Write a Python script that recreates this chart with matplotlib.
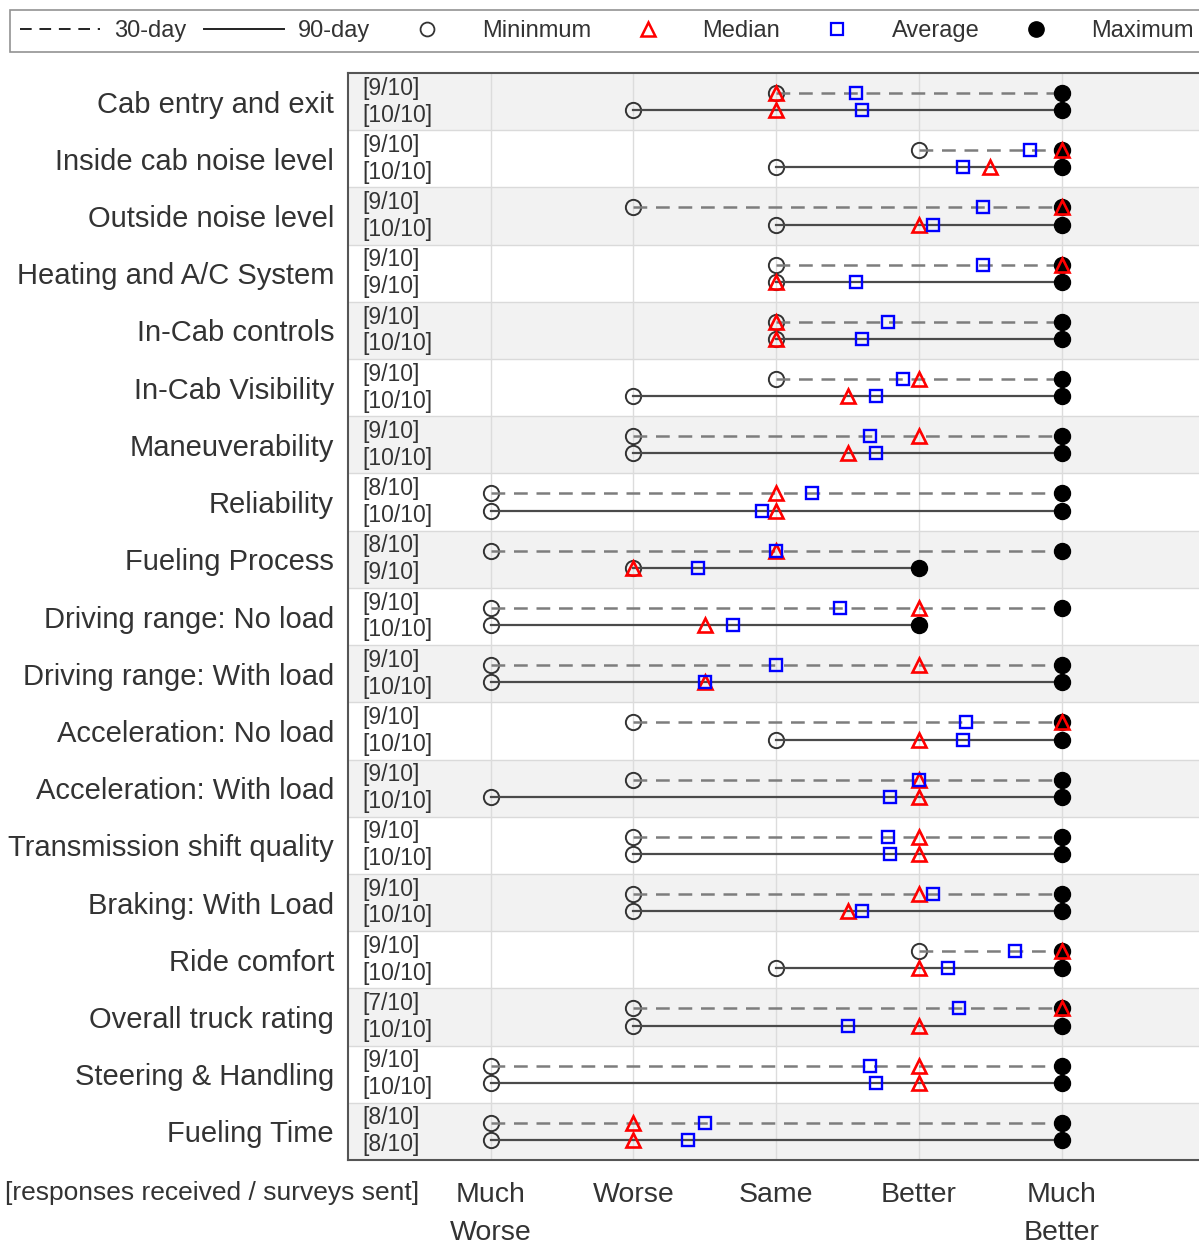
import numpy as np
import matplotlib
matplotlib.use("Agg")
import matplotlib.pyplot as plt
from matplotlib.lines import Line2D

plt.rcParams["font.family"] = ["Liberation Sans", "DejaVu Sans"]

# ===================== DATA =====================
categories = [
    "Cab entry and exit", "Inside cab noise level", "Outside noise level",
    "Heating and A/C System", "In-Cab controls", "In-Cab Visibility",
    "Maneuverability", "Reliability", "Fueling Process",
    "Driving range: No load", "Driving range: With load",
    "Acceleration: No load", "Acceleration: With load",
    "Transmission shift quality", "Braking: With Load", "Ride comfort",
    "Overall truck rating", "Steering & Handling", "Fueling Time",
]

# 30-day survey (scale 1 = Much Worse ... 5 = Much Better)
min_30 = [3, 4, 2, 3, 3, 3, 2, 1, 1, 1, 1, 2, 2, 2, 2, 4, 2, 1, 1]
med_30 = [3, 5, 5, 5, 3, 4, 4, 3, 3, 4, 4, 5, 4, 4, 4, 5, 5, 4, 2]
avg_30 = [3.56, 4.78, 4.45, 4.45, 3.78, 3.89, 3.66, 3.25, 3.0, 3.45,
          3.0, 4.33, 4.0, 3.78, 4.1, 4.67, 4.28, 3.66, 2.5]
max_30 = [5, 5, 5, 5, 5, 5, 5, 5, 5, 5, 5, 5, 5, 5, 5, 5, 5, 5, 5]
resp_30 = ["[9/10]", "[9/10]", "[9/10]", "[9/10]", "[9/10]", "[9/10]",
           "[9/10]", "[8/10]", "[8/10]", "[9/10]", "[9/10]", "[9/10]",
           "[9/10]", "[9/10]", "[9/10]", "[9/10]", "[7/10]", "[9/10]",
           "[8/10]"]

# 90-day survey
min_90 = [2, 3, 3, 3, 3, 2, 2, 1, 2, 1, 1, 3, 1, 2, 2, 3, 2, 1, 1]
med_90 = [3, 4.5, 4, 3, 3, 3.5, 3.5, 3, 2, 2.5, 2.5, 4, 4, 4, 3.5, 4, 4, 4, 2]
avg_90 = [3.6, 4.31, 4.1, 3.56, 3.6, 3.7, 3.7, 2.9, 2.45, 2.7,
          2.5, 4.31, 3.8, 3.8, 3.6, 4.2, 3.5, 3.7, 2.38]
max_90 = [5, 5, 5, 5, 5, 5, 5, 5, 4, 4, 5, 5, 5, 5, 5, 5, 5, 5, 5]
resp_90 = ["[10/10]", "[10/10]", "[10/10]", "[9/10]", "[10/10]", "[10/10]",
           "[10/10]", "[10/10]", "[9/10]", "[10/10]", "[10/10]", "[10/10]",
           "[10/10]", "[10/10]", "[10/10]", "[10/10]", "[10/10]", "[10/10]",
           "[8/10]"]

scale_vals = [1, 2, 3, 4, 5]
scale_labels = ["Much\nWorse", "Worse", "Same", "Better", "Much\nBetter"]

# ===================== STYLE =====================
DASH_COLOR = "#7d7d7d"
SOLID_COLOR = "#4a4a4a"
SHADE = "#f2f2f2"
TXT = "#333333"
OFF30, OFF90 = -0.15, 0.15

fig = plt.figure(figsize=(11.99, 12.45), dpi=100)
ax = fig.add_axes([348 / 1199, 1 - 1160 / 1245, 856.5 / 1199, (1160 - 73) / 1245])

n = len(categories)
ax.set_xlim(0, 6)
ax.set_ylim(n - 0.5, -0.5)

# row shading and separators
for i in range(n):
    if i % 2 == 0:
        ax.axhspan(i - 0.5, i + 0.5, color=SHADE, zorder=0, lw=0)
    if i > 0:
        ax.axhline(i - 0.5, color="#dadada", lw=1.0, zorder=0.5)

for v in scale_vals:
    ax.axvline(v, color="#dcdcdc", lw=1.0, zorder=0.6)


def draw_series(y, mins, meds, avgs, maxs, ls, color, lw, dashes=None):
    for i in range(n):
        yy = i + y
        kw = dict(color=color, lw=lw, zorder=2)
        if dashes:
            kw["dashes"] = dashes
        ax.plot([mins[i], maxs[i]], [yy, yy], linestyle=ls, **kw)
        ax.plot(mins[i], yy, "o", ms=11, mfc="none", mec="#333333", mew=1.4, zorder=1.8)
        ax.plot(maxs[i], yy, "o", ms=11.5, mfc="black", mec="black", zorder=3)
        ax.plot(meds[i], yy, "^", ms=10.5, mfc="none", mec="red", mew=1.9, zorder=4)
        ax.plot(avgs[i], yy, "s", ms=9, mfc="none", mec="blue", mew=1.7, zorder=5)


draw_series(OFF30, min_30, med_30, avg_30, max_30, "--", DASH_COLOR, 1.8, dashes=(5.5, 3.5))
draw_series(OFF90, min_90, med_90, avg_90, max_90, "-", SOLID_COLOR, 1.6)

# response counts inside axes
for i in range(n):
    ax.text(0.1, i - 0.235, resp_30[i], fontsize=16.5, color=TXT,
            ha="left", va="center", zorder=6)
    ax.text(0.1, i + 0.235, resp_90[i], fontsize=16.5, color=TXT,
            ha="left", va="center", zorder=6)

ax.set_yticks(range(n))
ax.set_yticklabels(categories, fontsize=21, color=TXT)
ax.tick_params(axis="y", length=0, pad=10)

ax.set_xticks(scale_vals)
ax.set_xticklabels(scale_labels, fontsize=20.5, color=TXT, linespacing=1.6,
                   va="top")
ax.tick_params(axis="x", length=0, pad=16)

for side in ["left", "top", "bottom"]:
    ax.spines[side].set_color("#555555")
    ax.spines[side].set_linewidth(1.5)
ax.spines["right"].set_visible(False)

fig.text(5 / 1199, 1 - 1193 / 1245, "[responses received / surveys sent]",
         fontsize=19, color=TXT, ha="left", va="center")

# legend
handles = [
    Line2D([], [], color="#222222", lw=1.4, linestyle="--", dashes=(6, 4)),
    Line2D([], [], color="#222222", lw=1.4, linestyle="-"),
    Line2D([], [], marker="o", ls="none", ms=10, mfc="none", mec="#333333", mew=1.3),
    Line2D([], [], marker="^", ls="none", ms=10, mfc="none", mec="red", mew=1.8),
    Line2D([], [], marker="s", ls="none", ms=8.5, mfc="none", mec="blue", mew=1.6),
    Line2D([], [], marker="o", ls="none", ms=11, mfc="black", mec="black"),
]
labels = ["30-day", "90-day", "Mininmum", "Median", "Average", "Maximum"]
leg = fig.legend(handles, labels, loc="upper left",
                 bbox_to_anchor=(10 / 1199, 1 - 10 / 1245), ncol=6,
                 fontsize=17, frameon=True, fancybox=False, handlelength=3.4,
                 handletextpad=0.6, columnspacing=0.72, borderpad=0.42,
                 borderaxespad=0)
leg.get_frame().set_edgecolor("#777777")
leg.get_frame().set_linewidth(1.2)
for t in leg.get_texts():
    t.set_color(TXT)

fig.savefig("out.png", dpi=100)
